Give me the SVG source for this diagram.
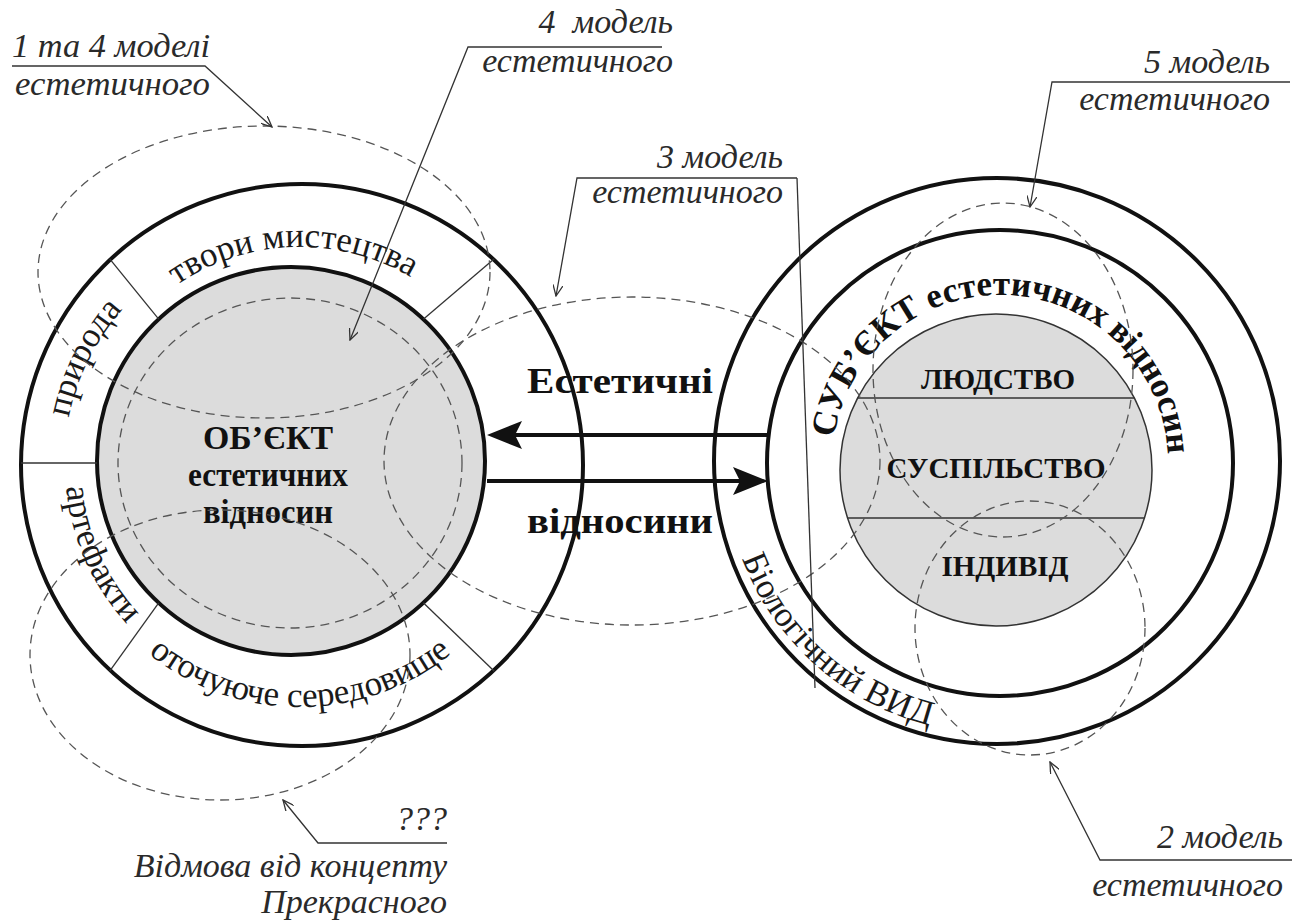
<svg xmlns="http://www.w3.org/2000/svg" width="1304" height="922" viewBox="0 0 1304 922">
<style>
.thick{fill:none;stroke:#111;stroke-width:4}
.thin{fill:none;stroke:#333;stroke-width:1.3}
.dash{fill:none;stroke:#555;stroke-width:1.3;stroke-dasharray:9 6}
.lead{fill:none;stroke:#333;stroke-width:1.3}
.lbl{font-family:"Liberation Serif",serif;font-style:italic;font-size:34px;fill:#2a2a2a}
.ring{font-family:"Liberation Serif",serif;font-size:35px;fill:#1a1a1a}
.bold{font-family:"Liberation Serif",serif;font-weight:bold;fill:#111}
</style>
<defs>
<marker id="open" viewBox="0 0 12 10" refX="11" refY="5" markerWidth="12" markerHeight="10" markerUnits="userSpaceOnUse" orient="auto">
<path d="M0,0 L11,5 L0,10" fill="none" stroke="#333" stroke-width="1.3"/>
</marker>
<path id="pTop" d="M82,465 A218,218 0 0 1 518,465"/>
<path id="pNat" d="M67.6,506 A236,236 0 0 1 259,232.6"/>
<path id="pArt" d="M65.9,444.5 A235,235 0 0 0 165.2,657.5"/>
<path id="pEnv" d="M90.4,586 A242,242 0 0 0 509.6,586"/>
<path id="pSubj" d="M832,463 A168,168 0 0 1 1168,463"/>
<path id="pBio" d="M725,484.6 A272,272 0 0 0 1133,696.6"/>
</defs>

<!-- Left system: object -->
<g id="object">
<circle class="thick" cx="302" cy="465" r="281"/>
<circle cx="291" cy="461" r="194" fill="#dcdcdc" stroke="#111" stroke-width="4"/>
<line class="thin" x1="109.7" y1="258.9" x2="158.7" y2="319.2"/>
<line class="thin" x1="494.3" y1="258.8" x2="423.3" y2="319.2"/>
<line class="thin" x1="21" y1="463" x2="97" y2="463"/>
<line class="thin" x1="109.7" y1="671.2" x2="158.7" y2="602.8"/>
<line class="thin" x1="494.3" y1="671.2" x2="423.3" y2="602.8"/>
<text class="ring"><textPath href="#pTop" startOffset="335" text-anchor="middle">твори мистецтва</textPath></text>
<text class="ring"><textPath href="#pNat" startOffset="150" text-anchor="middle">природа</textPath></text>
<text class="ring"><textPath href="#pArt" startOffset="119" text-anchor="middle">артефакти</textPath></text>
<text class="ring"><textPath href="#pEnv" startOffset="50%" text-anchor="middle">оточуюче середовище</textPath></text>
<text class="bold" font-size="33" text-anchor="middle" x="268" y="449" textLength="130" lengthAdjust="spacingAndGlyphs">ОБ’ЄКТ</text>
<text class="bold" font-size="33" text-anchor="middle" x="268" y="486" textLength="160" lengthAdjust="spacingAndGlyphs">естетичних</text>
<text class="bold" font-size="33" text-anchor="middle" x="268" y="523" textLength="130" lengthAdjust="spacingAndGlyphs">відносин</text>
</g>

<!-- Right system: subject -->
<g id="subject">
<circle class="thick" cx="997" cy="461" r="283"/>
<circle class="thick" cx="1000" cy="463" r="233"/>
<circle cx="996" cy="470" r="156" fill="#dcdcdc" stroke="#333" stroke-width="1.5"/>
<line class="thin" x1="857.6" y1="398" x2="1134.4" y2="398"/>
<line class="thin" x1="847.6" y1="518" x2="1144.4" y2="518"/>
<text class="bold" font-size="29" text-anchor="middle" x="998" y="389">ЛЮДСТВО</text>
<text class="bold" font-size="29" text-anchor="middle" x="996" y="478">СУСПІЛЬСТВО</text>
<text class="bold" font-size="29" text-anchor="middle" x="1005" y="576">ІНДИВІД</text>
<text class="bold" font-size="35"><textPath href="#pSubj" startOffset="104" text-anchor="middle">СУБ’ЄКТ</textPath></text>
<text class="bold" font-size="35"><textPath href="#pSubj" startOffset="282" text-anchor="middle">естетичних</textPath></text>
<text class="bold" font-size="35"><textPath href="#pSubj" startOffset="449" text-anchor="middle">відносин</textPath></text>
<text class="ring" font-size="26"><textPath href="#pBio" startOffset="76">Біологічний ВИД</textPath></text>
</g>

<!-- Relations -->
<g id="relations">
<line x1="767" y1="435" x2="515" y2="435" stroke="#111" stroke-width="4"/>
<path d="M487,435 L522,421 L515,435 L522,449 Z" fill="#111"/>
<line x1="487" y1="481" x2="740" y2="481" stroke="#111" stroke-width="4"/>
<path d="M768,481 L733,467 L740,481 L733,495 Z" fill="#111"/>
<text class="bold" font-size="36" x="527" y="393" textLength="186" lengthAdjust="spacingAndGlyphs">Естетичні</text>
<text class="bold" font-size="36" x="527" y="533" textLength="186" lengthAdjust="spacingAndGlyphs">відносини</text>
</g>

<!-- Model regions (dashed) -->
<g id="models">
<ellipse class="dash" cx="264" cy="272" rx="226" ry="146"/>
<ellipse class="dash" cx="290" cy="463" rx="172" ry="165"/>
<ellipse class="dash" cx="632" cy="461" rx="248" ry="164"/>
<ellipse class="dash" cx="220" cy="655" rx="190" ry="145"/>
<ellipse class="dash" cx="1003" cy="370" rx="130" ry="167"/>
<ellipse class="dash" cx="1030" cy="628" rx="115" ry="127"/>
</g>

<!-- Connectors (leaders) -->
<g id="connectors">
<polyline class="lead" points="12,66 205,66 272,127" marker-end="url(#open)"/>
<polyline class="lead" points="662,47 468,47 350,340" marker-end="url(#open)"/>
<polyline class="lead" points="797,178 577,178 556,296" marker-end="url(#open)"/>
<line class="lead" x1="797" y1="178" x2="815" y2="688"/>
<polyline class="lead" points="1290,82 1052,82 1030,207" marker-end="url(#open)"/>
<polyline class="lead" points="1292,860 1100,860 1050,762" marker-end="url(#open)"/>
<polyline class="lead" points="447,843 318,843 283,800" marker-end="url(#open)"/>
</g>

<!-- Labels -->
<g id="labels">
<text class="lbl" x="12" y="57" textLength="198" lengthAdjust="spacingAndGlyphs">1 та 4 моделі</text>
<text class="lbl" x="15" y="95" textLength="195" lengthAdjust="spacingAndGlyphs">естетичного</text>
<text class="lbl" x="673" y="33" text-anchor="end">4&#160; модель</text>
<text class="lbl" x="673" y="72" text-anchor="end">естетичного</text>
<text class="lbl" x="783" y="168" text-anchor="end">3 модель</text>
<text class="lbl" x="783" y="203" text-anchor="end">естетичного</text>
<text class="lbl" x="1270" y="73" text-anchor="end">5 модель</text>
<text class="lbl" x="1270" y="110" text-anchor="end">естетичного</text>
<text class="lbl" x="1283" y="848" text-anchor="end">2 модель</text>
<text class="lbl" x="1283" y="896" text-anchor="end">естетичного</text>
<text class="lbl" x="447" y="830" text-anchor="end">???</text>
<text class="lbl" x="447" y="877" text-anchor="end">Відмова від концепту</text>
<text class="lbl" x="447" y="913" text-anchor="end">Прекрасного</text>
</g>
</svg>
